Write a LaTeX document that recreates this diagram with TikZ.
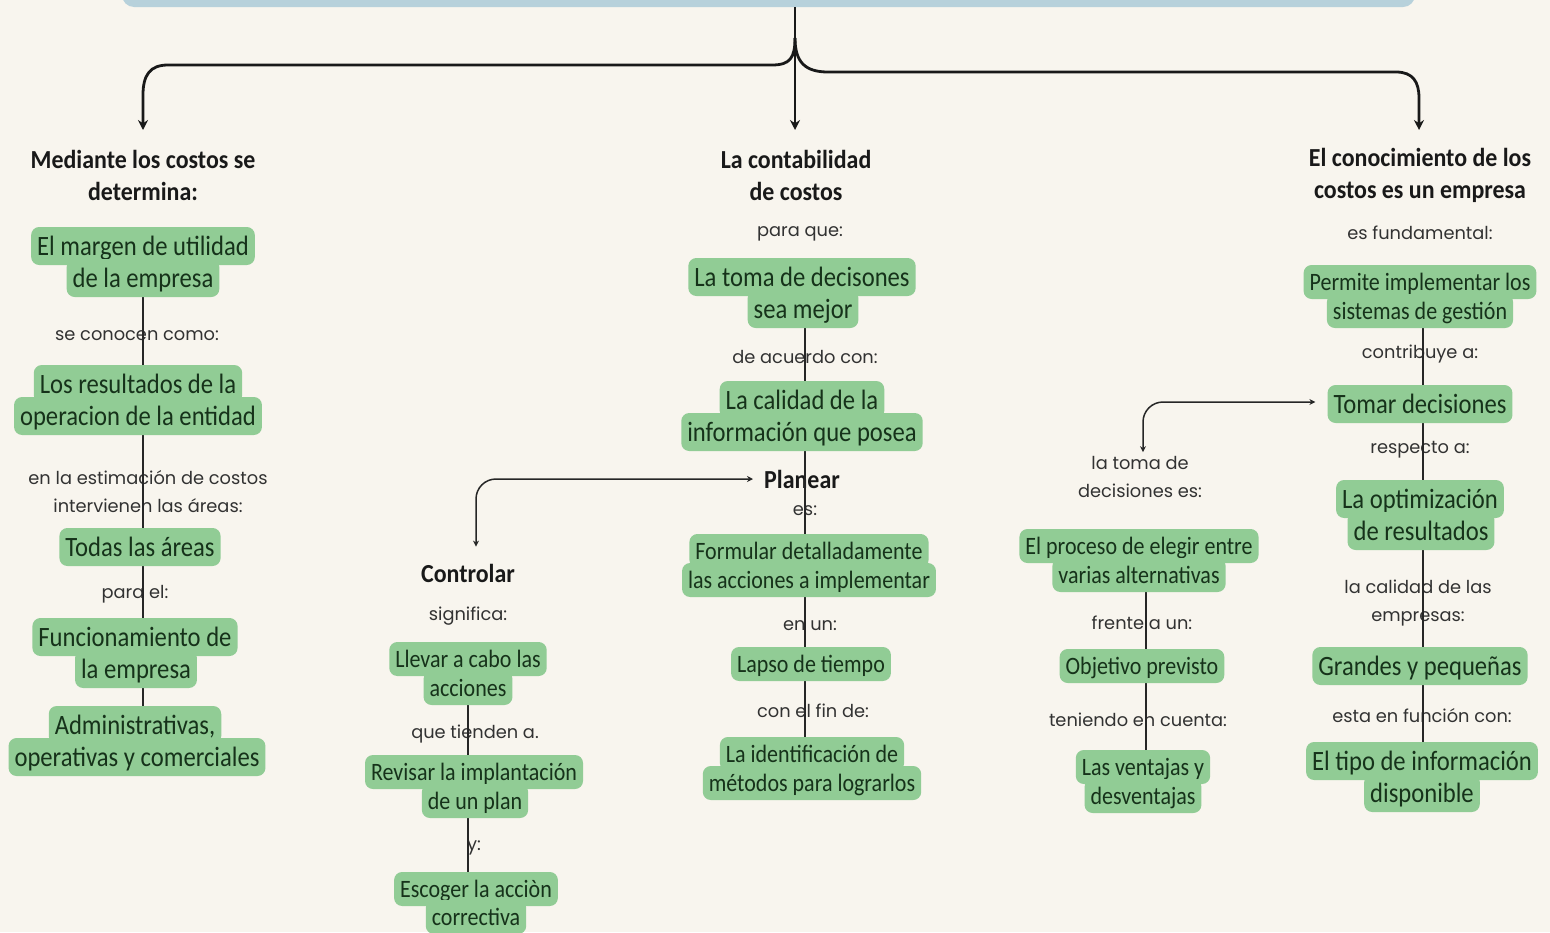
\documentclass[tikz,border=0pt]{standalone}
\usepackage{fontspec}
\setmainfont{Carlito}
\newfontfamily\gfont[FakeStretch=0.88]{Carlito}
\newfontfamily\hfont[FakeStretch=0.92]{Carlito}
\newfontfamily\lfont{Poppins}
\usetikzlibrary{arrows.meta}
\definecolor{bg}{RGB}{248,245,238}
\definecolor{gfill}{RGB}{145,204,149}
\definecolor{gtext}{RGB}{22,50,26}
\definecolor{labc}{RGB}{50,50,50}
\definecolor{barc}{RGB}{183,209,219}
\pgfdeclarelayer{bgl}
\pgfdeclarelayer{labl}
\pgfdeclarelayer{linel}
\pgfdeclarelayer{topl}
\pgfsetlayers{bgl,labl,linel,main,topl}
\tikzset{
 gb/.style={fill=gfill, rounded corners=8pt, text=gtext, font=\gfont\fontsize{28}{32}\selectfont, inner xsep=6pt, inner ysep=0pt, text height=20pt, text depth=2pt, minimum height=38pt},
 gs/.style={gb, font=\gfont\fontsize{25}{29}\selectfont, text height=18pt, text depth=2pt, minimum height=34pt},
 lab/.style={text=labc, font=\lfont\fontsize{17.8}{28}\selectfont, align=center, inner sep=1pt},
 head/.style={text=black!90, font=\hfont\bfseries\fontsize{26}{32}\selectfont, align=center, inner sep=2pt},
 conn/.style={line width=1.6pt, black!85},
 bigarrow/.style={line width=2.8pt, black!90, -{Stealth[length=10pt,width=10pt]}},
 smallarrow/.style={line width=1.5pt, black!85, {Stealth[length=6pt,width=6pt]}-{Stealth[length=6pt,width=6pt]}},
}
\begin{document}
\begin{tikzpicture}[x=1pt,y=-1pt]
\useasboundingbox (0,0) rectangle (1550,932);
\begin{pgfonlayer}{bgl}
\fill[bg] (0,0) rectangle (1550,932);
\clip (0,0) rectangle (1550,932);
\node[fill=barc, rounded corners=12pt, minimum width=1293pt, minimum height=40pt, inner sep=0] (bar) at (768.5,-13) {};
\end{pgfonlayer}

% coordinates
\coordinate (xL) at (143,0);
\coordinate (xM) at (805,0);
\coordinate (xC) at (468,0);
\coordinate (xD) at (1146,0);
\coordinate (xR) at (1423,0);
\coordinate (jn) at (795,38);
\coordinate (h1tip) at (143,130);
\coordinate (h2tip) at (795,130);
\coordinate (h3tip) at (1419,130);

\begin{pgfonlayer}{labl}
% headings
\node[head] (h1) at (143,175) {Mediante los costos se\\determina:};
\node[head] (h2) at (796,175) {La contabilidad\\de costos};
\node[head] (h3) at (1420,175) {El conocimiento de los\\costos es un empresa};
\node[head] (plan) at (802,479) {Planear};
\node[head] (ctl) at (468,573) {Controlar};
% labels
\node[lab] (l1) at (137,336) {se conocen como:};
\node[lab] (l2) at (148,492) {en la estimación de costos\\intervienen las áreas:};
\node[lab] (l3) at (135,594) {para el:};
\node[lab] (l4) at (800,234) {para que:};
\node[lab] (l5) at (805,357) {de acuerdo con:};
\node[lab] (l6) at (805,511) {es:};
\node[lab] (l7) at (810,626) {en un:};
\node[lab] (l8) at (813,711) {con el fin de:};
\node[lab] (l9) at (468,616) {significa:};
\node[lab] (l10) at (475,734) {que tienden a.};
\node[lab] (l11) at (474,848) {y:};
\node[lab] (l12) at (1140,477) {la toma de\\decisiones es:};
\node[lab] (l13) at (1142,623) {frente a un:};
\node[lab] (l14) at (1138,720) {teniendo en cuenta:};
\node[lab] (l15) at (1420,233) {es fundamental:};
\node[lab] (l16) at (1420,354) {contribuye a:};
\node[lab] (l17) at (1420,450) {respecto a:};
\node[lab] (l18) at (1418,603) {la calidad de las\\empresas:};
\node[lab] (l19) at (1422,716) {esta en función con:};
\end{pgfonlayer}

% left column
\node[gb] (a1a) at (143,246) {El margen de utilidad};
\node[gb] (a1b) at (143,278) {de la empresa};
\node[gb] (a2a) at (138,384) {Los resultados de la};
\node[gb] (a2b) at (138,416) {operacion de la entidad};
\node[gb] (a3) at (140,547) {Todas las áreas};
\node[gb] (a4a) at (135,637) {Funcionamiento de};
\node[gb] (a4b) at (136,669) {la empresa};
\node[gb] (a5a) at (135,725) {Administrativas,};
\node[gb] (a5b) at (137,757) {operativas y comerciales};
% middle
\node[gb] (b1a) at (802,277) {La toma de decisones};
\node[gb] (b1b) at (803,309) {sea mejor};
\node[gb] (b2a) at (802,400) {La calidad de la};
\node[gb] (b2b) at (802,432) {información que posea};
\node[gs] (b3a) at (809,551) {Formular detalladamente};
\node[gs] (b3b) at (809,580) {las acciones a implementar};
\node[gs] (b4) at (811,664) {Lapso de tiempo};
\node[gs] (b5a) at (812,754) {La identificación de};
\node[gs] (b5b) at (812,783) {métodos para lograrlos};
% controlar
\node[gs] (c1a) at (468,659) {Llevar a cabo las};
\node[gs] (c1b) at (468,688) {acciones};
\node[gs] (c2a) at (474,772) {Revisar la implantación};
\node[gs] (c2b) at (475,801) {de un plan};
\node[gs] (c3a) at (476,889) {Escoger la acciòn};
\node[gs] (c3b) at (476,917) {correctiva};
% right-middle
\node[gs] (d1a) at (1139,546) {El proceso de elegir entre};
\node[gs] (d1b) at (1139,575) {varias alternativas};
\node[gs] (d2) at (1142,666) {Objetivo previsto};
\node[gs] (d3a) at (1143,767) {Las ventajas y};
\node[gs] (d3b) at (1143,796) {desventajas};
% right
\node[gs] (e1a) at (1420,282) {Permite implementar los};
\node[gs] (e1b) at (1420,311) {sistemas de gestión};
\node[gb] (e2) at (1420,404) {Tomar decisiones};
\node[gb] (e3a) at (1420,499) {La optimización};
\node[gb] (e3b) at (1421,531) {de resultados};
\node[gb] (e4) at (1420,666) {Grandes y pequeñas};
\node[gb] (e5a) at (1422,761) {El tipo de información};
\node[gb] (e5b) at (1422,793) {disponible};

\begin{pgfonlayer}{linel}
\draw[conn] (a1b.south -| xL) -- (a2a.north -| xL);
\draw[conn] (a2b.south -| xL) -- (a3.north -| xL);
\draw[conn] (a3.south -| xL) -- (a4a.north -| xL);
\draw[conn] (a4b.south -| xL) -- (a5a.north -| xL);
\draw[conn] (b1b.south -| xM) -- (b2a.north -| xM);
\draw[conn] (b2b.south -| xM) -- (b3a.north -| xM);
\draw[conn] (b3b.south -| xM) -- (b4.north -| xM);
\draw[conn] (b4.south -| xM) -- (b5a.north -| xM);
\draw[conn] (c1b.south -| xC) -- (c2a.north -| xC);
\draw[conn] (c2b.south -| xC) -- (c3a.north -| xC);
\draw[conn] (d1b.south -| xD) -- (d2.north -| xD);
\draw[conn] (d2.south -| xD) -- (d3a.north -| xD);
\draw[conn] (e1b.south -| xR) -- (e2.north -| xR);
\draw[conn] (e2.south -| xR) -- (e3a.north -| xR);
\draw[conn] (e3b.south -| xR) -- (e4.north -| xR);
\draw[conn] (e4.south -| xR) -- (e5a.north -| xR);
\end{pgfonlayer}

\begin{pgfonlayer}{topl}
\draw[bigarrow] (bar.south -| h2tip) -- (h2tip);
\draw[bigarrow] (jn) .. controls (795,58) and (790,65) .. (772,65) -- (168,65) .. controls (150,65) and (143,75) .. (143,95) -- (h1tip);
\draw[bigarrow] (jn) .. controls (795,62) and (805,72) .. (828,72) -- (1396,72) .. controls (1413,72) and (1419,82) .. (1419,98) -- (h3tip);
\draw[smallarrow, rounded corners=20pt, shorten <=9pt, shorten >=15pt] (plan.west) -| ([xshift=8pt]ctl.north);
\draw[smallarrow, rounded corners=20pt, shorten <=12pt, shorten >=3pt] ([yshift=2pt]e2.west) -| ([xshift=3pt]l12.north);
\end{pgfonlayer}
\end{tikzpicture}
\end{document}
